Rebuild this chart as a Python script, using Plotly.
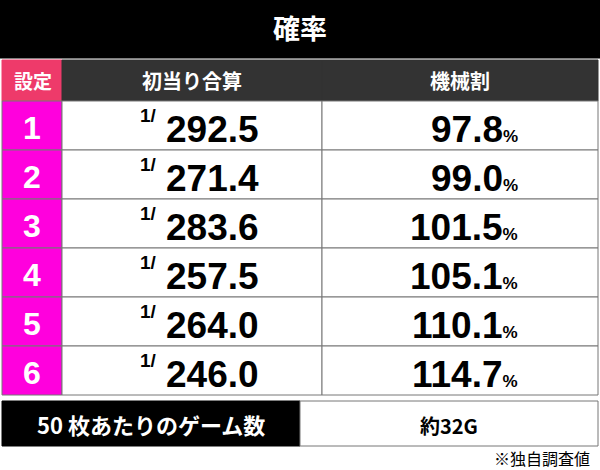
import plotly.graph_objects as go

settings = ["1", "2", "3", "4", "5", "6"]
first_hit = ["292.5", "271.4", "283.6", "257.5", "264.0", "246.0"]
payout = ["97.8", "99.0", "101.5", "105.1", "110.1", "114.7"]
headers = ["設定", "初当り合算", "機械割"]
games_label = "50 枚あたりのゲーム数"
games_value = "約32G"

JP = "Noto Sans CJK JP"
NUM = "Liberation Sans Narrow, Liberation Sans, Arial"
GRID = "#777777"

fig = go.Figure()
shapes = []
ann = []


def rect(x0, y0, x1, y1, fill, line=GRID, w=1):
    shapes.append(dict(type="rect", x0=x0, y0=y0, x1=x1, y1=y1, fillcolor=fill,
                       line=dict(color=line, width=w), layer="below"))


def text(x, y, s, size, color="black", font=JP, xanchor="center"):
    ann.append(dict(x=x, y=y, text=s, showarrow=False, xanchor=xanchor, yanchor="middle",
                    font=dict(family=font, size=size, color=color)))


# title
rect(0, 0, 600, 58, "black", "black")
text(300, 27, "<b>確率</b>", 27, "white")

# header row
rect(2, 60, 62, 101, "#ee3a6a", "#ee3a6a")
rect(62, 60, 322, 101, "#333333", "#333333")
rect(322, 60, 598, 101, "#333333", "#333333")
text(33, 80, "<b>%s</b>" % headers[0], 19, "white")
text(192, 80, "<b>%s</b>" % headers[1], 20, "white")
text(460, 80, "<b>%s</b>" % headers[2], 20, "white")

top, h = 101, 49
for i, s in enumerate(settings):
    y0 = top + i * h
    rect(2, y0, 62, y0 + h, "#ff00dd", GRID)
    rect(62, y0, 322, y0 + h, "white", GRID)
    rect(322, y0, 598, y0 + h, "white", GRID)
    yc = y0 + h / 2 + 2
    text(32, yc, "<b>%s</b>" % s, 32, "white", NUM)
    text(138, yc - 12, "<b>1/</b>", 19, "black", NUM, "left")
    text(164, yc + 2, "<b>%s</b>" % first_hit[i], 37, "black", NUM, "left")
    text(520, yc + 2, "<b>%s</b><span style='font-size:17px'><b>%%</b></span>" % payout[i],
         37, "black", NUM, "right")

# games per 50 coins
rect(2, 401, 300, 446, "black", "black")
rect(300, 401, 598, 446, "white", GRID)
text(151, 424, "<b>%s</b>" % games_label, 22, "white")
text(449, 425, "<b>%s</b>" % games_value, 20, "black")
text(592, 458, "※独自調査値", 16, "black", JP, "right")

fig.update_layout(
    width=600, height=470,
    margin=dict(l=0, r=0, t=0, b=0),
    plot_bgcolor="white", paper_bgcolor="white",
    xaxis=dict(range=[0, 600], visible=False, fixedrange=True),
    yaxis=dict(range=[470, 0], visible=False, fixedrange=True),
    shapes=shapes, annotations=ann, showlegend=False,
)

fig.write_html("out.html", config={"displayModeBar": False},
               post_script="document.body.style.margin='0';document.body.style.overflow='hidden';")
